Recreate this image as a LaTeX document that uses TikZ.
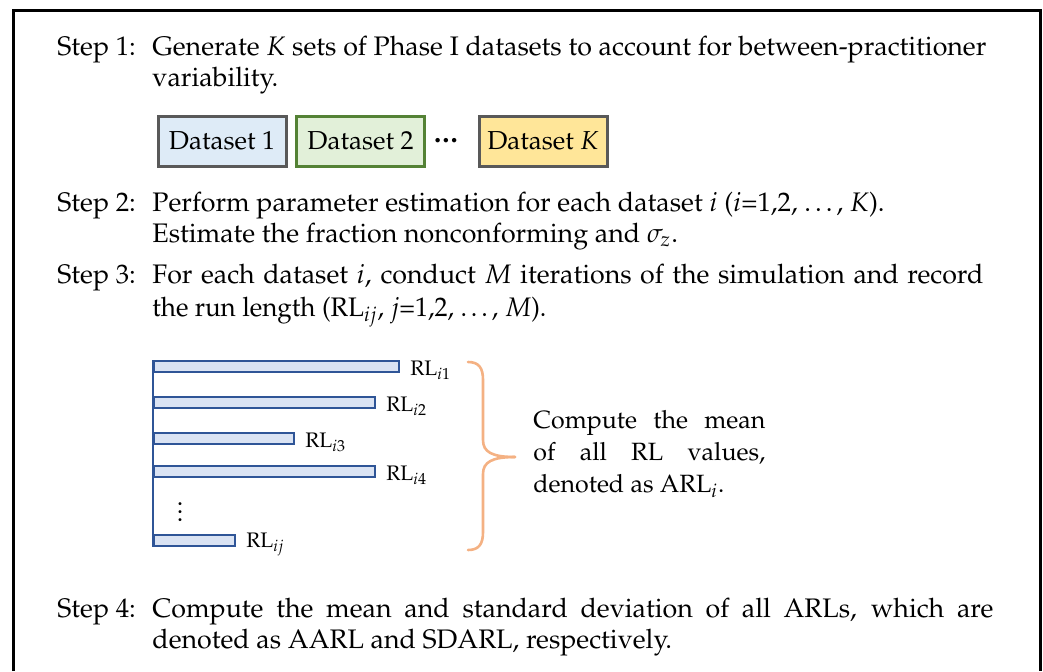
\documentclass[tikz,border=0pt]{standalone}
\usepackage[T1]{fontenc}
\usepackage{mathpazo}
\begin{document}
\begin{tikzpicture}[x=0.5pt,y=-0.5pt,
  txt/.style={anchor=base west, inner sep=0pt, font=\fontsize{13.4}{15.5}\selectfont},
  dbox/.style={draw=boxgray, line width=1.5pt, minimum width=64pt, minimum height=25pt,
    inner sep=0pt, font=\fontsize{13}{15}\selectfont},
  rlbar/.style={draw=barblue, fill=barfill, line width=1pt, anchor=west,
    minimum height=5.5pt, inner sep=0pt},
  rllab/.style={anchor=west, inner sep=0pt, font=\fontsize{10.5}{12}\selectfont},
]
\definecolor{boxgray}{HTML}{595959}
\definecolor{barblue}{HTML}{2F5597}
\definecolor{barfill}{HTML}{DAE3F3}
\definecolor{bluefill}{HTML}{DEEBF7}
\definecolor{greenfill}{HTML}{E2F0D9}
\definecolor{greenline}{HTML}{548235}
\definecolor{yellowfill}{HTML}{FFE699}
\definecolor{bracecol}{HTML}{F4B183}

\useasboundingbox (0,0) rectangle (1043,671);
% open frame around the procedure
\draw[line width=1.5pt] (13,671) -- (13,10) -- (1040,10) -- (1040,671);

% Step 1
\node[txt] (s1) at (57,55) {Step 1:};
\node[txt] (s1a) at (152,55) {\makebox[417pt][s]{Generate $K$ sets of Phase I datasets to account for between-practitioner}};
\node[txt] (s1b) at (152,86) {variability.};

\node[dbox, fill=bluefill] (d1) at (222,141) {Dataset 1};
\node[dbox, fill=greenfill, draw=greenline] (d2) at (360.5,141) {Dataset 2};
\node[inner sep=0pt, font=\fontsize{5.5}{7}\selectfont] (dd) at (446,141) {$\bullet\bullet\bullet$};
\node[dbox, fill=yellowfill] (dk) at (543,141) {Dataset $K$};

% Step 2
\node[txt] (s2) at (57,211) {Step 2:};
\node[txt] (s2a) at (152,211) {Perform parameter estimation for each dataset $i$ ($i$=1,2, \ldots, $K$).};
\node[txt] (s2b) at (152,242) {Estimate the fraction nonconforming and $\sigma_z$.};

% Step 3
\node[txt] (s3) at (57,283) {Step 3:};
\node[txt] (s3a) at (152,283) {\makebox[415.5pt][s]{For each dataset $i$, conduct $M$ iterations of the simulation and record}};
\node[txt] (s3b) at (152,316) {\scalebox{0.97}[1]{the run length (RL$_{ij}$, $j$=1,2, \ldots, $M$).}};

% run lengths of dataset i
\node[rlbar, minimum width=122.5pt] (b1) at (153,366.5) {};
\node[rlbar, minimum width=110.5pt] (b2) at (153,402.5) {};
\node[rlbar, minimum width=70pt]    (b3) at (153,438) {};
\node[rlbar, minimum width=110.5pt] (b4) at (153,471) {};
\node[rlbar, minimum width=40.5pt]  (bj) at (153,540.5) {};
\draw[barblue, line width=1pt] (b1.north west) -- (bj.south west);

\node[rllab] at ([xshift=5pt,yshift=-2pt]b1.east) {RL$_{i1}$};
\node[rllab] at ([xshift=5pt,yshift=-2pt]b2.east) {RL$_{i2}$};
\node[rllab] at ([xshift=5pt,yshift=-2pt]b3.east) {RL$_{i3}$};
\node[rllab] at ([xshift=5pt,yshift=-2pt]b4.east) {RL$_{i4}$};
\node[rllab] at ([xshift=5pt,yshift=-2pt]bj.east) {RL$_{ij}$};
\node[inner sep=0pt, font=\fontsize{13}{15}\selectfont] (vd) at (180,506) {$\vdots$};

% brace gathering the run lengths
\coordinate (bt) at (468,362);
\coordinate (bb) at (468,550);
\coordinate (tip) at (515,457);
\draw[bracecol, line width=1.3pt, line cap=round]
  (bt) .. controls (479,362) and (483,368) .. (483,380)
  -- (483,440) .. controls (483,452) and (492,457) .. (tip);
\draw[bracecol, line width=1.3pt, line cap=round]
  (bb) .. controls (479,550) and (483,544) .. (483,532)
  -- (483,474) .. controls (483,462) and (492,457) .. (tip);

\node[anchor=north west, inner sep=0pt, text width=116pt, align=justify,
  font=\fontsize{12.5}{16}\selectfont] (mean) at (533,410)
  {Compute the mean\linebreak of all RL values,\linebreak denoted as ARL$_i$.};

% Step 4
\node[txt] (s4) at (57,617) {Step 4:};
\node[txt] (s4a) at (152,617) {\makebox[420.5pt][s]{Compute the mean and standard deviation of all ARLs, which are}};
\node[txt] (s4b) at (152,648) {denoted as AARL and SDARL, respectively.};
\end{tikzpicture}
\end{document}
